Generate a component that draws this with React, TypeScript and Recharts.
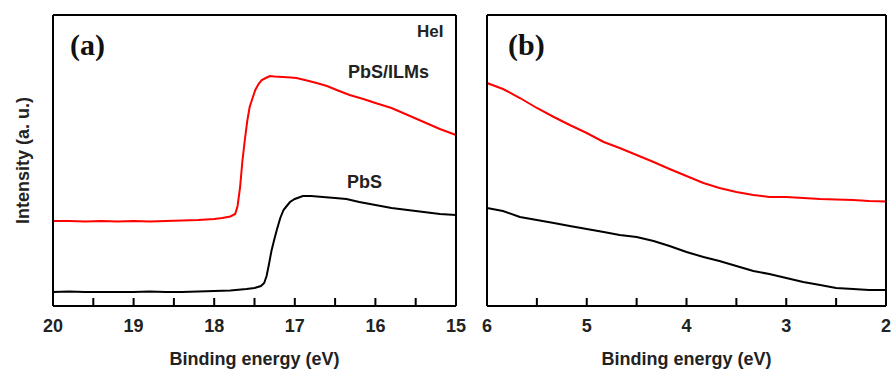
import React from 'react';
import { LineChart, Line, XAxis, YAxis, ReferenceLine } from 'recharts';

// Panel (a): HeI cut-off region
const energyA_ILMs = [20.0, 19.8, 19.6, 19.4, 19.2, 19.0, 18.8, 18.6, 18.4, 18.2, 18.0, 17.9, 17.8, 17.74, 17.71, 17.68, 17.65, 17.62, 17.59, 17.56, 17.52, 17.49, 17.45, 17.41, 17.36, 17.31, 17.25, 17.15, 17.05, 16.98, 16.85, 16.73, 16.6, 16.48, 16.32, 16.15, 16.0, 15.8, 15.6, 15.4, 15.2, 15.0];
const intensityA_ILMs = [85, 85, 84.5, 85, 84.5, 85, 84.5, 85, 85.5, 86, 87, 88, 89.5, 92, 100, 118, 145, 166, 185, 199, 209, 216, 222, 226, 228, 230, 229.5, 229, 228.5, 228, 225.5, 223, 220, 216, 211, 207, 203, 198, 191, 184, 177, 171];

const energyA_PbS = [20.0, 19.8, 19.6, 19.4, 19.2, 19.0, 18.8, 18.6, 18.4, 18.2, 18.0, 17.8, 17.6, 17.5, 17.42, 17.38, 17.35, 17.32, 17.29, 17.25, 17.22, 17.18, 17.14, 17.1, 17.06, 17.0, 16.9, 16.8, 16.65, 16.5, 16.36, 16.2, 16.0, 15.8, 15.6, 15.4, 15.2, 15.0];
const intensityA_PbS = [14, 14.5, 14, 14, 14, 14, 14.5, 14, 14, 14.5, 15, 15.5, 17, 18, 20, 23, 30, 42, 55, 68, 77, 88, 96, 100, 104, 107, 110, 110, 109, 108, 107, 104, 101, 98, 96, 94, 92, 91];

// Panel (b): valence band region
const energyB = [6.0, 5.84, 5.67, 5.5, 5.33, 5.17, 5.0, 4.83, 4.67, 4.5, 4.33, 4.17, 4.0, 3.83, 3.67, 3.5, 3.33, 3.17, 3.0, 2.83, 2.66, 2.5, 2.33, 2.17, 2.0];
const intensityB_ILMs = [223, 217, 208, 198, 189, 181, 173, 164, 158, 151, 144, 137, 130, 123, 118, 114, 111, 109, 109, 108, 107, 106.5, 106, 105, 104.5];
const intensityB_PbS = [98, 95, 89, 86, 83, 80, 77, 74, 71, 69, 65, 60, 54, 49, 45, 40, 35, 32, 28, 24, 21, 18, 17, 16, 16];

const ticksA = [15, 15.5, 16, 16.5, 17, 17.5, 18, 18.5, 19, 19.5, 20];
const ticksB = [2, 2.5, 3, 3.5, 4, 4.5, 5, 5.5, 6];
const yDomain: [number, number] = [0, 291];
const TICK_LEN = 8;

const toRows = (xs: number[], ys: number[]) => xs.map((e, i) => ({ e, v: ys[i] }));
const dataA1 = toRows(energyA_ILMs, intensityA_ILMs);
const dataA2 = toRows(energyA_PbS, intensityA_PbS);
const dataB1 = toRows(energyB, intensityB_ILMs);
const dataB2 = toRows(energyB, intensityB_PbS);

const FONT = '"Liberation Sans", Arial, sans-serif';

// Inward tick mark (from the axis scale) plus label for whole numbers
const Tick = (props: any) => {
  const { x, y, payload } = props;
  const isMajor = Number.isInteger(payload.value);
  const yy = Number(y);
  return (
    <g>
      <rect x={Number(x) - 1} y={yy - TICK_LEN} width={2} height={TICK_LEN} fill="#000" />
      {isMajor ? (
        <text x={x} y={yy + 26} textAnchor="middle" fontFamily={FONT} fontWeight={700} fontSize={18} fill="#222">
          {payload.value}
        </text>
      ) : null}
    </g>
  );
};

const Panel = ({ domain, ticks, series, width, margin }: any) => (
  <LineChart width={width} height={370} margin={margin}>
    <XAxis
      dataKey="e"
      type="number"
      domain={domain}
      ticks={ticks}
      reversed
      height={30}
      interval={0}
      tickSize={0}
      tickMargin={0}
      tick={<Tick />}
      axisLine={false}
      tickLine={false}
    />
    <YAxis type="number" domain={yDomain} hide />
    {series.map((s: any, i: number) => (
      <Line
        key={i}
        data={s.data}
        dataKey="v"
        type="linear"
        stroke={s.color}
        strokeWidth={2}
        dot={false}
        isAnimationActive={false}
      />
    ))}
    <ReferenceLine x={domain[0]} stroke="#000" strokeWidth={2} ifOverflow="visible" />
    <ReferenceLine x={domain[1]} stroke="#000" strokeWidth={2} ifOverflow="visible" />
    <ReferenceLine y={yDomain[0]} stroke="#000" strokeWidth={2} ifOverflow="visible" />
    <ReferenceLine y={yDomain[1]} stroke="#000" strokeWidth={2} ifOverflow="visible" />
  </LineChart>
);

export default function App() {
  return (
    <div style={{ position: 'fixed', left: 0, top: 0, width: 892, height: 370, background: '#fff' }}>
      <div style={{ position: 'absolute', left: 0, top: 0 }}>
        <Panel
          width={470}
          domain={[15, 20]}
          ticks={ticksA}
          margin={{ top: 15, right: 14, bottom: 34, left: 53 }}
          series={[
            { data: dataA1, color: '#ff0000' },
            { data: dataA2, color: '#000000' },
          ]}
        />
      </div>
      <div style={{ position: 'absolute', left: 470, top: 0 }}>
        <Panel
          width={422}
          domain={[2, 6]}
          ticks={ticksB}
          margin={{ top: 15, right: 6, bottom: 34, left: 17 }}
          series={[
            { data: dataB1, color: '#ff0000' },
            { data: dataB2, color: '#000000' },
          ]}
        />
      </div>
      <svg width={892} height={370} style={{ position: 'absolute', left: 0, top: 0, pointerEvents: 'none' }}>
        <text x={70} y={55} fontFamily='"Liberation Serif", "Times New Roman", serif' fontWeight={700} fontSize={30} fill="#111">(a)</text>
        <text x={508} y={55} fontFamily='"Liberation Serif", "Times New Roman", serif' fontWeight={700} fontSize={30} fill="#111">(b)</text>
        <text x={417} y={37} fontFamily={FONT} fontWeight={700} fontSize={17} fill="#222">HeI</text>
        <text x={348} y={78} fontFamily={FONT} fontWeight={700} fontSize={18} fill="#222">PbS/ILMs</text>
        <text x={347} y={188} fontFamily={FONT} fontWeight={700} fontSize={18} fill="#222">PbS</text>
        <text x={254.5} y={365} textAnchor="middle" fontFamily={FONT} fontWeight={700} fontSize={18} fill="#222">Binding energy (eV)</text>
        <text x={686.5} y={365} textAnchor="middle" fontFamily={FONT} fontWeight={700} fontSize={18} fill="#222">Binding energy (eV)</text>
        <text x={0} y={0} transform="translate(28.5,160.5) rotate(-90)" textAnchor="middle" fontFamily={FONT} fontWeight={700} fontSize={18} fill="#222">Intensity (a. u.)</text>
      </svg>
    </div>
  );
}
